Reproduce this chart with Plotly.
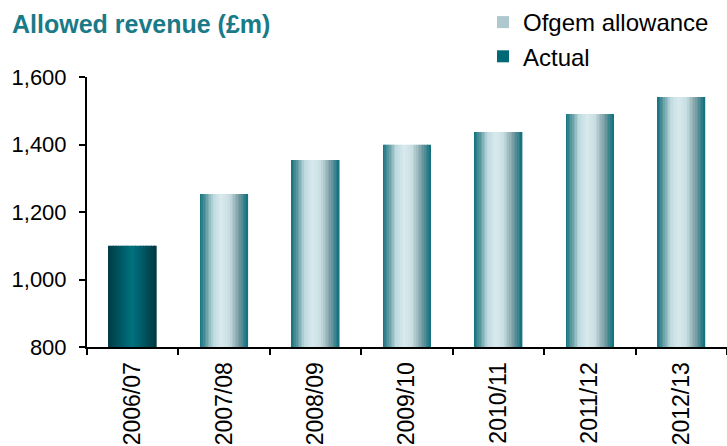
import plotly.graph_objects as go

categories = ["2006/07", "2007/08", "2008/09", "2009/10", "2010/11", "2011/12", "2012/13"]
actual_years = ["2006/07"]
actual_values = [1100]
ofgem_years = ["2007/08", "2008/09", "2009/10", "2010/11", "2011/12", "2012/13"]
ofgem_values = [1253, 1354, 1399, 1437, 1490, 1541]
y_ticks = [800, 1000, 1200, 1400, 1600]

# gradient stops (fraction across bar, rgb)
ofgem_stops = [(0.0, (14, 114, 128)), (0.12, (90, 150, 158)), (0.28, (190, 218, 223)),
               (0.45, (216, 234, 237)), (0.62, (200, 221, 225)), (0.82, (120, 156, 163)),
               (1.0, (12, 112, 126))]
actual_stops = [(0.0, (0, 60, 70)), (0.5, (0, 114, 128)), (1.0, (0, 56, 64))]


def interp(stops, t):
    for (t0, c0), (t1, c1) in zip(stops[:-1], stops[1:]):
        if t0 <= t <= t1:
            f = (t - t0) / (t1 - t0) if t1 > t0 else 0
            return "rgb(%d,%d,%d)" % tuple(round(a + (b - a) * f) for a, b in zip(c0, c1))
    return "rgb(%d,%d,%d)" % stops[-1][1]


BAR_W = 0.52
N = 30
fig = go.Figure()


def add_series(name, xs, ys, stops, legend_strip):
    for i in range(N):
        t = (i + 0.5) / N
        fig.add_trace(go.Bar(
            x=xs, y=ys, name=name, legendgroup=name,
            width=BAR_W / N + 0.002, offset=-BAR_W / 2 + i * BAR_W / N,
            marker=dict(color=interp(stops, t), line=dict(width=0)),
            showlegend=(i == legend_strip), hoverinfo="skip" if i != legend_strip else None,
        ))


add_series("Ofgem allowance", ofgem_years, ofgem_values, ofgem_stops, 20)
add_series("Actual", actual_years, actual_values, actual_stops, 12)

fig.update_layout(
    width=727, height=446,
    margin=dict(l=87, r=0, t=77, b=99, autoexpand=False),
    paper_bgcolor="white", plot_bgcolor="white",
    barmode="overlay",
    font=dict(family="Liberation Sans, Arial, sans-serif", color="black"),
    showlegend=True,
    legend=dict(x=(483 - 87) / 640, y=1.0, xref="paper", yref="container",
                xanchor="left", yanchor="top",
                font=dict(size=24), bgcolor="rgba(0,0,0,0)", tracegroupgap=0,
                itemwidth=30),
    annotations=[dict(text="<b>Allowed revenue (£m)</b>",
                      x=(10 - 87) / 640, y=1 + (77 - 24) / 270,
                      xref="paper", yref="paper", xanchor="left", yanchor="middle",
                      showarrow=False, font=dict(size=25, color="#1a7a87"))],
)
fig.update_xaxes(
    type="category", categoryorder="array", categoryarray=categories,
    showline=True, linecolor="black", linewidth=2, automargin=False,
    ticks="outside", tickson="boundaries", ticklen=6, tickwidth=2, tickcolor="black",
    tickangle=-90, tickfont=dict(size=23), ticklabelstandoff=4,
    showgrid=False, range=[-0.5, 6.5],
)
fig.update_yaxes(
    range=[800, 1600], tickvals=y_ticks, tickformat=",d", automargin=False,
    showline=True, linecolor="black", linewidth=2,
    ticks="outside", ticklen=6, tickwidth=2, tickcolor="black",
    tickfont=dict(size=22), ticklabelstandoff=8,
    showgrid=False, zeroline=False,
)
fig.write_html("out.html")
